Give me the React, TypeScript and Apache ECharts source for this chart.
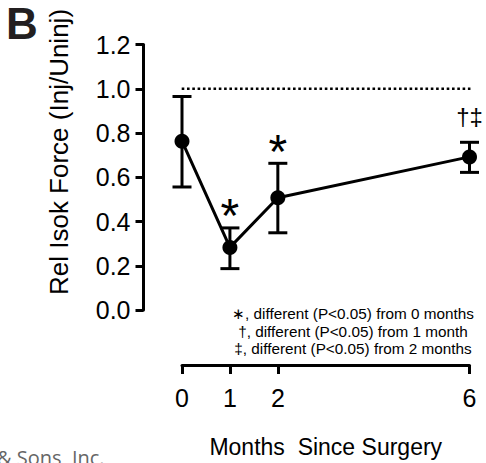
import React, { useEffect, useRef } from "react";
import * as echarts from "echarts";

const months = [0, 1, 2, 6];
const meanForce = [0.763, 0.283, 0.507, 0.692];
const errUpper = [0.965, 0.371, 0.663, 0.758];
const errLower = [0.556, 0.187, 0.349, 0.622];
const sigMarks = ["", "*", "*", "†‡"];
const xTicks = [0, 1, 2, 6];
const refLine = [[-0.67, 1.0], [6.02, 1.0]];
const legendLines = [
  "∗, different (P<0.05) from 0 months",
  "†, different (P<0.05) from 1 month",
  "‡, different (P<0.05) from 2 months",
];

const FONT = "'Liberation Sans', Arial, Helvetica, sans-serif";

export default function App() {
  const ref = useRef<HTMLDivElement>(null);
  useEffect(() => {
    if (!ref.current) return;
    const chart = echarts.init(ref.current, undefined, { renderer: "svg" });
    const option: any = {
      animation: false,
      backgroundColor: "#ffffff",
      textStyle: { fontFamily: FONT },
      grid: { left: 182, right: 16.5, top: 44.5, bottom: 147.5, containLabel: false },
      xAxis: {
        type: "value",
        min: 0,
        max: 6,
        offset: 55,
        splitLine: { show: false },
        axisLine: { show: true, onZero: false, lineStyle: { color: "#000", width: 3 } },
        axisTick: { show: true, length: 9, customValues: xTicks, lineStyle: { color: "#000", width: 3 } },
        axisLabel: {
          customValues: xTicks,
          fontSize: 25,
          color: "#000",
          margin: 20,
          fontFamily: FONT,
        },
        name: "Months  Since Surgery",
        nameLocation: "middle",
        nameGap: 70,
        nameTextStyle: { fontSize: 23, color: "#000", fontFamily: FONT, verticalAlign: "top" },
      },
      yAxis: {
        type: "value",
        min: 0,
        max: 1.2,
        interval: 0.2,
        offset: 38.5,
        splitLine: { show: false },
        axisLine: { show: true, onZero: false, lineStyle: { color: "#000", width: 3 } },
        axisTick: { show: true, length: 8, lineStyle: { color: "#000", width: 3 } },
        axisLabel: {
          fontSize: 25,
          color: "#000",
          margin: 13,
          fontFamily: FONT,
          formatter: (v: number) => v.toFixed(1),
        },
      },
      graphic: [
        {
          type: "text",
          left: 6,
          top: 1,
          style: { text: "B", fontSize: 44, lineHeight: 44, fontWeight: "bold", fill: "#231f20", fontFamily: FONT },
        },
        {
          type: "text",
          x: 59,
          y: 152,
          rotation: Math.PI / 2,
          style: {
            text: "Rel Isok Force (Inj/Uninj)",
            fontSize: 26,
            fill: "#000",
            fontFamily: FONT,
            align: "center",
            verticalAlign: "middle",
          },
        },
        {
          type: "text",
          x: 353,
          y: 305,
          style: {
            text: legendLines.join("\n"),
            fontSize: 15.3,
            lineHeight: 17.5,
            fill: "#000",
            fontFamily: FONT,
            align: "center",
            verticalAlign: "top",
          },
        },
        {
          type: "text",
          x: -3,
          y: 447,
          style: {
            text: "& Sons, Inc.",
            fontSize: 20,
            fill: "#666",
            fontFamily: "'Open Sans', sans-serif",
          },
        },
      ],
      series: [
        {
          type: "line",
          data: refLine,
          symbol: "none",
          clip: false,
          silent: true,
          lineStyle: { color: "#000", width: 2.6, type: [2.6, 2.7] },
          z: 1,
        },
        {
          type: "custom",
          clip: false,
          data: months.map((m, i) => [m, errLower[i], errUpper[i]]),
          renderItem: (params: any, api: any) => {
            const x = api.value(0);
            const lo = api.coord([x, api.value(1)]);
            const hi = api.coord([x, api.value(2)]);
            const hw = 9.5;
            const st = { stroke: "#000", lineWidth: 3 };
            return {
              type: "group",
              children: [
                { type: "line", shape: { x1: lo[0], y1: lo[1], x2: hi[0], y2: hi[1] }, style: st },
                { type: "line", shape: { x1: hi[0] - hw, y1: hi[1], x2: hi[0] + hw, y2: hi[1] }, style: st },
                { type: "line", shape: { x1: lo[0] - hw, y1: lo[1], x2: lo[0] + hw, y2: lo[1] }, style: st },
              ],
            };
          },
          z: 2,
        },
        {
          type: "line",
          data: months.map((m, i) => [m, meanForce[i]]),
          symbol: "circle",
          symbolSize: 15,
          clip: false,
          itemStyle: { color: "#000" },
          lineStyle: { color: "#000", width: 3 },
          z: 3,
        },
        {
          type: "custom",
          clip: false,
          data: months.map((m, i) => [m, errUpper[i], i]),
          renderItem: (params: any, api: any) => {
            const idx = api.value(2);
            const mark = sigMarks[idx];
            if (!mark) return null;
            const p = api.coord([api.value(0), api.value(1)]);
            const isStar = mark === "*";
            return {
              type: "text",
              x: p[0],
              y: p[1] + (isStar ? -12 : -26),
              style: {
                text: mark,
                fontSize: isStar ? 48 : 24,
                fill: "#000",
                fontFamily: FONT,
                align: "center",
                verticalAlign: "middle",
              },
            };
          },
          z: 4,
        },
      ],
    };
    chart.setOption(option);
    return () => chart.dispose();
  }, []);
  return (
    <div
      ref={ref}
      style={{ position: "fixed", left: 0, top: 0, width: 486, height: 463 }}
    />
  );
}
